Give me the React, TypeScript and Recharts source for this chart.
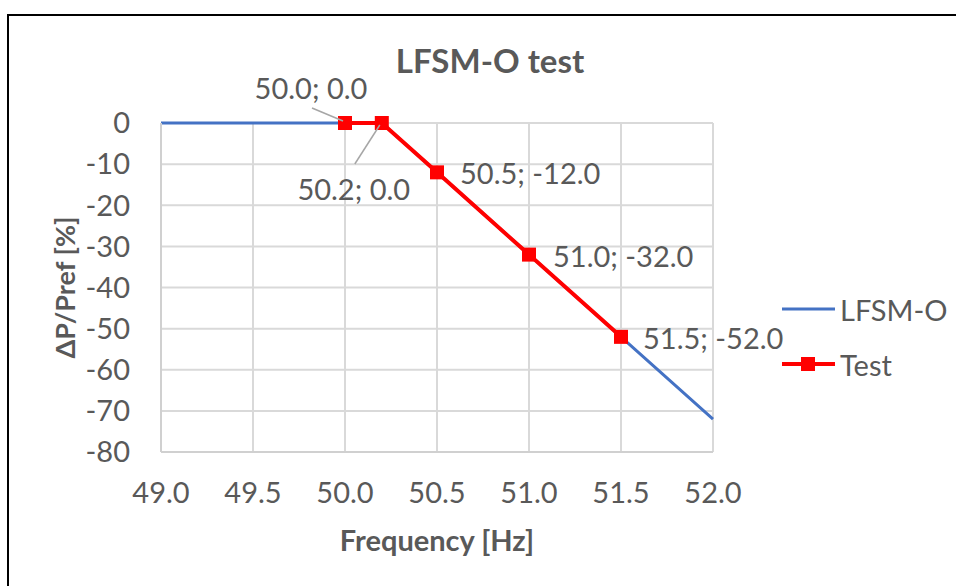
import React from 'react';
import { LineChart, Line, XAxis, YAxis, CartesianGrid, Legend, LabelList } from 'recharts';

const lfsmFreq = [49.0, 50.2, 52.0];
const lfsmPower = [0, 0, -72];
const testFreq = [50.0, 50.2, 50.5, 51.0, 51.5];
const testPower = [0, 0, -12, -32, -52];
const xTicks = [49.0, 49.5, 50.0, 50.5, 51.0, 51.5, 52.0];
const yTicks = [0, -10, -20, -30, -40, -50, -60, -70, -80];

const lfsmData = lfsmFreq.map((f, i) => ({ f, p: lfsmPower[i] }));
const testData = testFreq.map((f, i) => ({ f, p: testPower[i] }));

const FONT = 'Lato, "Open Sans", sans-serif';
const TEXT = '#595959';
const BLUE = '#4472C4';
const RED = '#FF0000';
const FS = 29;

// where each data label sits relative to its point (dx, dy, anchor, leader line)
const labelPos = [
  { dx: -34, dy: -36, anchor: 'middle', leader: [-33, -15, -2, -2] },
  { dx: -28, dy: 65, anchor: 'middle', leader: [-27, 41, -2, 2] },
  { dx: 23, dy: 0, anchor: 'start' },
  { dx: 24, dy: 1, anchor: 'start' },
  { dx: 22, dy: 1, anchor: 'start' },
];

const DataLabel = (props: any) => {
  const { x, y, index } = props;
  const pos = labelPos[index];
  const txt = `${testFreq[index].toFixed(1)}; ${testPower[index].toFixed(1)}`;
  return (
    <g>
      {pos.leader && (
        <line
          x1={x + pos.leader[0]}
          y1={y + pos.leader[1]}
          x2={x + pos.leader[2]}
          y2={y + pos.leader[3]}
          stroke="#a6a6a6"
          strokeWidth={1.5}
        />
      )}
      <text
        x={x + pos.dx}
        y={y + pos.dy}
        textAnchor={pos.anchor}
        dominantBaseline="central"
        fill={TEXT}
        fontSize={FS}
        fontFamily={FONT}
      >
        {txt}
      </text>
    </g>
  );
};

const Square = (props: any) => {
  const { cx, cy } = props;
  return <rect x={cx - 7} y={cy - 7} width={14} height={14} fill={RED} />;
};

const LegendBox = () => (
  <div style={{ fontFamily: FONT, fontSize: FS, color: TEXT }}>
    <div style={{ display: 'flex', alignItems: 'center', height: 30 }}>
      <svg width={60} height={20}>
        <line x1={2} y1={10} x2={55} y2={10} stroke={BLUE} strokeWidth={3} />
      </svg>
      <span>LFSM-O</span>
    </div>
    <div style={{ display: 'flex', alignItems: 'center', height: 30, marginTop: 25 }}>
      <svg width={60} height={20}>
        <line x1={2} y1={10} x2={55} y2={10} stroke={RED} strokeWidth={4} />
        <rect x={21} y={3} width={14} height={14} fill={RED} />
      </svg>
      <span>Test</span>
    </div>
  </div>
);

export default function App() {
  return (
    <div style={{ position: 'absolute', left: 0, top: 0, width: 956, height: 586, background: '#fff', overflow: 'hidden' }}>
      <div
        style={{
          position: 'absolute',
          left: 7,
          top: 14,
          width: 1000,
          height: 700,
          border: '2px solid #000',
        }}
      />
      <div
        style={{
          position: 'absolute',
          left: 0,
          width: 956,
          top: 40,
          textAlign: 'center',
          fontFamily: FONT,
          fontWeight: 700,
          fontSize: 33,
          color: TEXT,
          paddingLeft: 24,
          boxSizing: 'border-box',
        }}
      >
        LFSM-O test
      </div>
      <div style={{ position: 'absolute', left: 0, top: 0 }}>
        <LineChart width={956} height={586} margin={{ top: 123, right: 63, bottom: 104, left: 101 }}>
          <CartesianGrid stroke="#d9d9d9" strokeWidth={2} />
          <XAxis
            dataKey="f"
            type="number"
            domain={[49, 52]}
            ticks={xTicks}
            tickFormatter={(v: number) => v.toFixed(1)}
            allowDuplicatedCategory={false}
            axisLine={{ stroke: '#d0d0d0', strokeWidth: 2 }}
            tickLine={false}
            tickSize={0}
            tickMargin={30}
            height={30}
            tick={{ fill: TEXT, fontSize: FS, fontFamily: FONT }}
            label={({ viewBox }: any) => (
              <text
                x={viewBox.x + viewBox.width / 2}
                y={viewBox.y + 99}
                textAnchor="middle"
                fill={TEXT}
                fontSize={FS}
                fontWeight={700}
                fontFamily={FONT}
              >
                Frequency [Hz]
              </text>
            )}
          />
          <YAxis
            dataKey="p"
            type="number"
            domain={[-80, 0]}
            ticks={yTicks}
            axisLine={{ stroke: '#d0d0d0', strokeWidth: 2 }}
            tickLine={false}
            tickSize={0}
            tickMargin={31}
            width={60}
            tick={{ fill: TEXT, fontSize: FS, fontFamily: FONT }}
            label={({ viewBox }: any) => {
              const cx = 64;
              const cy = viewBox.y + viewBox.height / 2;
              return (
                <text
                  x={cx}
                  y={cy}
                  transform={`rotate(-90 ${cx} ${cy})`}
                  textAnchor="middle"
                  dominantBaseline="central"
                  fill={TEXT}
                  fontSize={27}
                  fontWeight={700}
                  fontFamily={FONT}
                >
                  ΔP/Pref [%]
                </text>
              );
            }}
          />
          <Legend
            layout="vertical"
            align="right"
            verticalAlign="top"
            content={<LegendBox />}
            wrapperStyle={{ left: 780, top: 294, width: 180 }}
          />
          <Line
            data={lfsmData}
            dataKey="p"
            name="LFSM-O"
            stroke={BLUE}
            strokeWidth={3}
            dot={false}
            activeDot={false}
            isAnimationActive={false}
          />
          <Line
            data={testData}
            dataKey="p"
            name="Test"
            stroke={RED}
            strokeWidth={4}
            dot={<Square />}
            activeDot={false}
            isAnimationActive={false}
          >
            <LabelList dataKey="p" content={<DataLabel />} />
          </Line>
        </LineChart>
      </div>
    </div>
  );
}
